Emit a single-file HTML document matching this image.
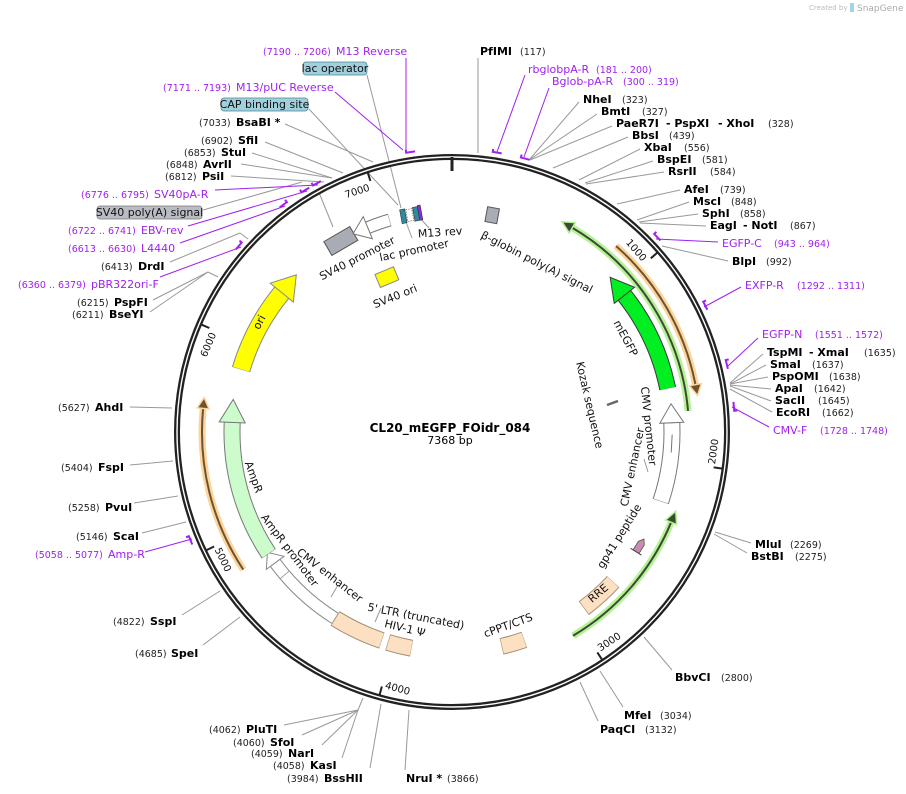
<!DOCTYPE html>
<html><head><meta charset="utf-8"><style>
html,body{margin:0;padding:0;background:#fff;}
svg{display:block;font-family:"DejaVu Sans","Liberation Sans",sans-serif;}
.n{font-size:11px;font-weight:bold;fill:#000;}
.c{font-size:9.5px;fill:#222;}
.p{font-size:11px;fill:#a020f0;}
.pc{font-size:9.5px;fill:#a020f0;}
.f{font-size:11px;fill:#111;}
.t{font-size:10px;fill:#111;}
.l{stroke:#999;stroke-width:1;fill:none;}
.lp{stroke:#a020f0;stroke-width:1;fill:none;}
</style></head><body>
<svg width="906" height="794" viewBox="0 0 906 794" xmlns="http://www.w3.org/2000/svg">
<rect width="906" height="794" fill="#fff"/>
<text x="809" y="10" style="font-size:7px;fill:#bbb">Created by</text>
<path d="M850,3 h4 v9 h-4z" fill="#9fd3ee"/>
<text x="857" y="11" style="font-size:9px;fill:#aaa">SnapGene</text>

<g class="l">
<line x1="478" y1="58" x2="478" y2="153"/>
<line x1="579" y1="102" x2="529" y2="160"/>
<line x1="597" y1="114" x2="529" y2="160"/>
<line x1="612" y1="126" x2="530" y2="160"/>
<line x1="628" y1="137" x2="553" y2="168"/>
<line x1="640" y1="149" x2="579" y2="180"/>
<line x1="653" y1="161" x2="585" y2="183"/>
<line x1="664" y1="172" x2="586" y2="184"/>
<line x1="680" y1="190" x2="617" y2="204"/>
<line x1="689" y1="202" x2="637" y2="220"/>
<line x1="698" y1="214" x2="639" y2="222"/>
<line x1="706" y1="226" x2="640" y2="223"/>
<line x1="728" y1="261" x2="662" y2="246"/>
<line x1="763" y1="354" x2="730" y2="383"/>
<line x1="766" y1="365" x2="730" y2="384"/>
<line x1="768" y1="377" x2="730" y2="384"/>
<line x1="771" y1="389" x2="730" y2="385"/>
<line x1="771" y1="401" x2="730" y2="386"/>
<line x1="772" y1="412" x2="730" y2="389"/>
<line x1="751" y1="543" x2="715" y2="532"/>
<line x1="747" y1="553" x2="714" y2="534"/>
<line x1="672" y1="670" x2="644" y2="637"/>
<line x1="623" y1="707" x2="600" y2="671"/>
<line x1="598" y1="721" x2="580" y2="682"/>
<line x1="405" y1="770" x2="409" y2="710"/>
<line x1="370" y1="768" x2="381" y2="704"/>
<line x1="342" y1="758" x2="358" y2="710"/>
<line x1="322" y1="745" x2="358" y2="710"/>
<line x1="302" y1="735" x2="358" y2="710"/>
<line x1="284" y1="725" x2="358" y2="710"/>
<line x1="358" y1="710" x2="363" y2="698"/>
<line x1="203" y1="645" x2="240" y2="617"/>
<line x1="182" y1="615" x2="220" y2="591"/>
<line x1="142" y1="533" x2="186" y2="522"/>
<line x1="134" y1="503" x2="178" y2="496"/>
<line x1="130" y1="465" x2="173" y2="461"/>
<line x1="130" y1="407" x2="172" y2="408"/>
<line x1="150" y1="312" x2="208" y2="272"/>
<line x1="153" y1="300" x2="208" y2="272"/>
<line x1="208" y1="272" x2="218" y2="277"/>
<line x1="170" y1="262" x2="240" y2="233"/>
<line x1="240" y1="233" x2="248" y2="239"/>
<line x1="203" y1="210" x2="302" y2="182"/>
<line x1="231" y1="176" x2="324" y2="182"/>
<line x1="241" y1="164" x2="332" y2="178"/>
<line x1="252" y1="153" x2="332" y2="178"/>
<line x1="265" y1="142" x2="343" y2="173"/>
<line x1="285" y1="124" x2="373" y2="162"/>
<line x1="309" y1="109" x2="398" y2="205"/>
<line x1="367" y1="75" x2="401" y2="208"/>
<line x1="318" y1="190" x2="333" y2="227"/>
<line x1="412" y1="238" x2="406" y2="222"/>
<line x1="429" y1="228" x2="418" y2="216"/>
<line x1="644" y1="459" x2="648" y2="472"/>
<line x1="338" y1="585" x2="331" y2="597"/>
<line x1="381" y1="608" x2="375" y2="622"/>
</g>
<g class="lp">
<line x1="525" y1="75" x2="497" y2="152"/>
<line x1="549" y1="88" x2="524" y2="157"/>
<line x1="718" y1="242" x2="656" y2="239"/>
<line x1="741" y1="287" x2="704" y2="307"/>
<line x1="758" y1="338" x2="728" y2="366"/>
<line x1="769" y1="427" x2="732" y2="407"/>
<line x1="145" y1="552" x2="192" y2="539"/>
<line x1="160" y1="277" x2="241" y2="247"/>
<line x1="180" y1="243" x2="285" y2="206"/>
<line x1="188" y1="226" x2="307" y2="191"/>
<line x1="215" y1="190" x2="318" y2="185"/>
<line x1="335" y1="92" x2="403" y2="150"/>
<line x1="406" y1="58" x2="406" y2="152"/>
</g>
<g stroke="#a020f0" stroke-width="2" fill="none">
<g transform="rotate(9.3 452 432)"><path d="M447,149 H456 M447,146 V150"/></g>
<g transform="rotate(15.1 452 432)"><path d="M447,149 H456 M447,146 V150"/></g>
<g transform="rotate(46.6 452 432)"><path d="M447,149 H456 M447,146 V150"/></g>
<g transform="rotate(63.6 452 432)"><path d="M447,149 H456 M447,146 V150"/></g>
<g transform="rotate(76.3 452 432)"><path d="M447,149 H456 M447,146 V150"/></g>
<g transform="rotate(84.9 452 432)"><path d="M447,149 H456 M456,146 V150"/></g>
<g transform="rotate(247.6 452 432)"><path d="M447,149 H456 M456,146 V150"/></g>
<g transform="rotate(311.2 452 432)"><path d="M447,149 H456 M456,146 V150"/></g>
<g transform="rotate(323.5 452 432)"><path d="M447,149 H456 M456,146 V150"/></g>
<g transform="rotate(328.9 452 432)"><path d="M447,149 H456 M447,146 V150"/></g>
<g transform="rotate(331.6 452 432)"><path d="M447,149 H456 M447,146 V150"/></g>
<g transform="rotate(351.7 452 432)"><path d="M447,149 H456 M447,146 V150"/></g>
</g>

<circle cx="452" cy="432" r="275" fill="none" stroke="#222" stroke-width="6"/>
<circle cx="452" cy="432" r="275" fill="none" stroke="#fff" stroke-width="1.4"/>
<line x1="452" y1="157" x2="452" y2="171" stroke="#222" stroke-width="3"/>
<g stroke="#222" stroke-width="2">
<line x1="452" y1="159" x2="452" y2="168" transform="rotate(48.86 452 432)"/>
<line x1="452" y1="159" x2="452" y2="168" transform="rotate(97.7 452 432)"/>
<line x1="452" y1="159" x2="452" y2="168" transform="rotate(146.6 452 432)"/>
<line x1="452" y1="159" x2="452" y2="168" transform="rotate(195.4 452 432)"/>
<line x1="452" y1="159" x2="452" y2="168" transform="rotate(244.3 452 432)"/>
<line x1="452" y1="159" x2="452" y2="168" transform="rotate(293.2 452 432)"/>
<line x1="452" y1="159" x2="452" y2="168" transform="rotate(342 452 432)"/>
</g>
<g class="t">
<text transform="rotate(48.86 452 432)" x="449" y="177" text-anchor="end">1000</text>
<text transform="rotate(-82.3 452 432)" x="455" y="697">2000</text>
<text transform="rotate(-33.4 452 432)" x="455" y="697">3000</text>
<text transform="rotate(15.4 452 432)" x="455" y="697">4000</text>
<text transform="rotate(64.3 452 432)" x="455" y="697">5000</text>
<text transform="rotate(-66.8 452 432)" x="449" y="177" text-anchor="end">6000</text>
<text transform="rotate(-18 452 432)" x="449" y="177" text-anchor="end">7000</text>
</g>

<g fill="none">
<circle cx="452" cy="432" r="237" stroke="#b6f296" stroke-width="7" stroke-dasharray="225 2000" transform="rotate(-59.5 452 432)"/>
<circle cx="452" cy="432" r="237" stroke="#3d4a33" stroke-width="2" stroke-dasharray="225 2000" transform="rotate(-59.5 452 432)"/>
<circle cx="452" cy="432" r="237" stroke="#b6f296" stroke-width="7" stroke-dasharray="152.6 2000" transform="rotate(22.4 452 432)"/>
<circle cx="452" cy="432" r="237" stroke="#3d4a33" stroke-width="2" stroke-dasharray="152.6 2000" transform="rotate(22.4 452 432)"/>
<circle cx="452" cy="432" r="248" stroke="#fdd49b" stroke-width="7" stroke-dasharray="162.7 2000" transform="rotate(-48.6 452 432)"/>
<circle cx="452" cy="432" r="248" stroke="#6b5430" stroke-width="2" stroke-dasharray="162.7 2000" transform="rotate(-48.6 452 432)"/>
<circle cx="452" cy="432" r="250" stroke="#fdd49b" stroke-width="7" stroke-dasharray="169.3 2000" transform="rotate(146.6 452 432)"/>
<circle cx="452" cy="432" r="250" stroke="#6b5430" stroke-width="2" stroke-dasharray="169.3 2000" transform="rotate(146.6 452 432)"/>
</g>
<polygon transform="rotate(30.5 452 432)" points="452,189 452,201 440,195" fill="#3d4a33" stroke="#b6f296" stroke-width="1.5"/>
<polygon transform="rotate(112.4 452 432)" points="452,189 452,201 440,195" fill="#3d4a33" stroke="#b6f296" stroke-width="1.5"/>
<polygon transform="rotate(79 452 432)" points="452,178 452,190 463,184" fill="#6b5430" stroke="#fdd49b" stroke-width="1.5"/>
<polygon transform="rotate(275.4 452 432)" points="452,176 452,188 463,182" fill="#6b5430" stroke="#fdd49b" stroke-width="1.5"/>

<circle cx="452" cy="432" r="220" fill="none" stroke="#3a3a3a" stroke-width="17" stroke-dasharray="103.7 2000" transform="rotate(-38.4 452 432)"/>
<circle cx="452" cy="432" r="220" fill="none" stroke="#00ee22" stroke-width="15" stroke-dasharray="103.2 2000" transform="rotate(-38.3 452 432)"/>
<polygon transform="rotate(51.6 452 432)" points="452,199 452,225 429,212" fill="#00ee22" stroke="#3a3a3a" stroke-width="1"/>
<circle cx="452" cy="432" r="220" fill="none" stroke="#777" stroke-width="17" stroke-dasharray="79.9 2000" transform="rotate(-2.4 452 432)"/>
<circle cx="452" cy="432" r="220" fill="none" stroke="#fff" stroke-width="15" stroke-dasharray="79 2000" transform="rotate(-2.3 452 432)"/>
<line x1="443" y1="212" x2="461" y2="212" stroke="#777" transform="rotate(93 452 432)"/>
<polygon transform="rotate(87.6 452 432)" points="452,200 452,224 433,212" fill="#fff" stroke="#777" stroke-width="1"/>
<line x1="607" y1="405" x2="618" y2="401" stroke="#666" stroke-width="2.5"/>
<g transform="rotate(122 452 432)"><polygon points="446,209 456,209 456,216 446,216 441,212.5" fill="#c98bb0" stroke="#555" stroke-width="0.8"/><line x1="456" y1="206" x2="456" y2="219" stroke="#444"/></g>
<g fill="none">
<circle cx="452" cy="432" r="220" stroke="#a09074" stroke-width="17" stroke-dasharray="39.5 2000" transform="rotate(42.9 452 432)"/>
<circle cx="452" cy="432" r="220" stroke="#fde0c2" stroke-width="15" stroke-dasharray="38.5 2000" transform="rotate(43 452 432)"/>
<circle cx="452" cy="432" r="220" stroke="#a09074" stroke-width="17" stroke-dasharray="23.8 2000" transform="rotate(70.8 452 432)"/>
<circle cx="452" cy="432" r="220" stroke="#fde0c2" stroke-width="15" stroke-dasharray="22.8 2000" transform="rotate(70.9 452 432)"/>
<circle cx="452" cy="432" r="220" stroke="#a09074" stroke-width="17" stroke-dasharray="24.6 2000" transform="rotate(100.6 452 432)"/>
<circle cx="452" cy="432" r="220" stroke="#fde0c2" stroke-width="15" stroke-dasharray="23.6 2000" transform="rotate(100.7 452 432)"/>
<circle cx="452" cy="432" r="220" stroke="#a09074" stroke-width="17" stroke-dasharray="51.8 2000" transform="rotate(108.6 452 432)"/>
<circle cx="452" cy="432" r="220" stroke="#fde0c2" stroke-width="15" stroke-dasharray="50.8 2000" transform="rotate(108.7 452 432)"/>
<circle cx="452" cy="432" r="220" stroke="#888" stroke-width="13" stroke-dasharray="66.8 2000" transform="rotate(122.1 452 432)"/>
<circle cx="452" cy="432" r="220" stroke="#fff" stroke-width="11" stroke-dasharray="66 2000" transform="rotate(122.2 452 432)"/>
<circle cx="452" cy="432" r="220" stroke="#888" stroke-width="13" stroke-dasharray="15.4 2000" transform="rotate(139.5 452 432)"/>
<circle cx="452" cy="432" r="220" stroke="#fff" stroke-width="11" stroke-dasharray="14.6 2000" transform="rotate(139.6 452 432)"/>
</g>
<polygon transform="rotate(233.5 452 432)" points="452,201 452,223 465,212" fill="#fff" stroke="#888" stroke-width="1"/>
<circle cx="452" cy="432" r="220" fill="none" stroke="#777" stroke-width="17" stroke-dasharray="138.6 2000" transform="rotate(146.4 452 432)"/>
<circle cx="452" cy="432" r="220" fill="none" stroke="#ccfccc" stroke-width="15" stroke-dasharray="137.8 2000" transform="rotate(146.5 452 432)"/>
<polygon transform="rotate(272.5 452 432)" points="452,199 452,225 475,212" fill="#ccfccc" stroke="#777" stroke-width="1"/>
<circle cx="452" cy="432" r="220" fill="none" stroke="#888" stroke-width="19" stroke-dasharray="87.6 2000" transform="rotate(196.5 452 432)"/>
<circle cx="452" cy="432" r="220" fill="none" stroke="#ffff00" stroke-width="17" stroke-dasharray="87 2000" transform="rotate(196.6 452 432)"/>
<polygon transform="rotate(309.3 452 432)" points="452,197 452,227 475,212" fill="#ffff00" stroke="#888" stroke-width="1"/>
<rect transform="rotate(337.2 452 432)" x="442" y="257" width="20" height="14" fill="#ffff00" stroke="#888"/>
<rect transform="rotate(329.8 452 432)" x="437" y="203" width="30" height="16" fill="#a8acb4" stroke="#555"/>
<!-- SV40 promoter white arrow -->
<circle cx="452" cy="432" r="221" fill="none" stroke="#777" stroke-width="13" stroke-dasharray="23.2 2000" transform="rotate(247.6 452 432)"/>
<circle cx="452" cy="432" r="221" fill="none" stroke="#fff" stroke-width="11" stroke-dasharray="22.4 2000" transform="rotate(247.7 452 432)"/>
<polygon transform="rotate(337.6 452 432)" points="452,199 452,223 436,211" fill="#fff" stroke="#777" stroke-width="1"/>
<g transform="rotate(-10.5 452 432)">
<rect x="441" y="204" width="5" height="14" fill="#2f8aa0" stroke="#333" stroke-width="0.6"/>
<rect x="447" y="205" width="6" height="12" fill="#fff" stroke="#555" stroke-width="0.6" stroke-dasharray="1.5 1"/>
<rect x="454" y="204" width="5" height="14" fill="#2f8aa0" stroke="#333" stroke-width="0.6"/>
<rect x="459" y="203" width="3" height="15" fill="#8a2be2" stroke="#333" stroke-width="0.6"/>
</g>
<rect transform="rotate(10.5 452 432)" x="446" y="204" width="12" height="15" fill="#a8acb4" stroke="#555"/>

<g class="f" text-anchor="middle">
<text transform="translate(537,262) rotate(27)" y="4">β-globin poly(A) signal</text>
<text transform="translate(626,338) rotate(62)" y="4">mEGFP</text>
<text transform="translate(590,405) rotate(77)" y="4">Kozak sequence</text>
<text transform="translate(649,426) rotate(84)" y="4">CMV promoter</text>
<text transform="translate(632,467) rotate(-78)" y="4">CMV enhancer</text>
<text transform="translate(619,536) rotate(-58)" y="4">gp41 peptide</text>
<text transform="translate(598,593) rotate(-40)" y="4">RRE</text>
<text transform="translate(508,625) rotate(-20)" y="4">cPPT/CTS</text>
<text transform="translate(416,616) rotate(11)" y="4">5' LTR (truncated)</text>
<text transform="translate(405,628) rotate(14)" y="4">HIV-1 Ψ</text>
<text transform="translate(330,575) rotate(38)" y="4">CMV enhancer</text>
<text transform="translate(290,550) rotate(53)" y="4">AmpR promoter</text>
<text transform="translate(254,477) rotate(70)" y="4">AmpR</text>
<text transform="translate(259,322) rotate(-62)" y="4">ori</text>
<text transform="translate(395,296) rotate(-22)" y="4">SV40 ori</text>
<text transform="translate(357,258) rotate(-27)" y="4">SV40 promoter</text>
<text transform="translate(414,250) rotate(-12)" y="4">lac promoter</text>
<text transform="translate(440,232) rotate(-4)" y="4">M13 rev</text>
</g>

<text x="450" y="432" text-anchor="middle" style="font-size:12px;font-weight:bold">CL20_mEGFP_FOidr_084</text>
<text x="450" y="444" text-anchor="middle" style="font-size:11px">7368 bp</text>

<text class="n" x="480" y="55">PfIMI</text><text class="c" x="520" y="55">(117)</text>
<text class="p" x="528" y="73">rbglobpA-R</text><text class="pc" x="596" y="73">(181 .. 200)</text>
<text class="p" x="552" y="85">Bglob-pA-R</text><text class="pc" x="623" y="85">(300 .. 319)</text>
<text class="n" x="583" y="103">NheI</text><text class="c" x="622" y="103">(323)</text>
<text class="n" x="601" y="115">BmtI</text><text class="c" x="642" y="115">(327)</text>
<text class="n" x="616" y="127">PaeR7I</text><text class="n" x="666" y="127">- PspXI</text><text class="n" x="718" y="127">- XhoI</text><text class="c" x="768" y="127">(328)</text>
<text class="n" x="632" y="139">BbsI</text><text class="c" x="669" y="139">(439)</text>
<text class="n" x="644" y="151">XbaI</text><text class="c" x="684" y="151">(556)</text>
<text class="n" x="657" y="163">BspEI</text><text class="c" x="702" y="163">(581)</text>
<text class="n" x="668" y="175">RsrII</text><text class="c" x="710" y="175">(584)</text>
<text class="n" x="684" y="193">AfeI</text><text class="c" x="720" y="193">(739)</text>
<text class="n" x="693" y="205">MscI</text><text class="c" x="731" y="205">(848)</text>
<text class="n" x="702" y="217">SphI</text><text class="c" x="740" y="217">(858)</text>
<text class="n" x="710" y="229">EagI</text><text class="n" x="743" y="229">- NotI</text><text class="c" x="790" y="229">(867)</text>
<text class="p" x="722" y="247">EGFP-C</text><text class="pc" x="774" y="247">(943 .. 964)</text>
<text class="n" x="732" y="265">BlpI</text><text class="c" x="766" y="265">(992)</text>
<text class="p" x="745" y="289">EXFP-R</text><text class="pc" x="797" y="289">(1292 .. 1311)</text>
<text class="p" x="762" y="338">EGFP-N</text><text class="pc" x="815" y="338">(1551 .. 1572)</text>
<text class="n" x="767" y="356">TspMI</text><text class="n" x="809" y="356">- XmaI</text><text class="c" x="864" y="356">(1635)</text>
<text class="n" x="770" y="368">SmaI</text><text class="c" x="812" y="368">(1637)</text>
<text class="n" x="772" y="380">PspOMI</text><text class="c" x="829" y="380">(1638)</text>
<text class="n" x="775" y="392">ApaI</text><text class="c" x="814" y="392">(1642)</text>
<text class="n" x="775" y="404">SacII</text><text class="c" x="818" y="404">(1645)</text>
<text class="n" x="776" y="416">EcoRI</text><text class="c" x="822" y="416">(1662)</text>
<text class="p" x="773" y="434">CMV-F</text><text class="pc" x="820" y="434">(1728 .. 1748)</text>
<text class="n" x="755" y="548">MluI</text><text class="c" x="790" y="548">(2269)</text>
<text class="n" x="751" y="560">BstBI</text><text class="c" x="795" y="560">(2275)</text>
<text class="n" x="675" y="681">BbvCI</text><text class="c" x="721" y="681">(2800)</text>
<text class="n" x="624" y="719">MfeI</text><text class="c" x="660" y="719">(3034)</text>
<text class="n" x="600" y="733">PaqCI</text><text class="c" x="645" y="733">(3132)</text>
<text class="n" x="406" y="782">NruI *</text><text class="c" x="447" y="782">(3866)</text>
<text class="c" x="287" y="782">(3984)</text><text class="n" x="324" y="782">BssHII</text>
<text class="c" x="273" y="769">(4058)</text><text class="n" x="310" y="769">KasI</text>
<text class="c" x="251" y="757">(4059)</text><text class="n" x="288" y="757">NarI</text>
<text class="c" x="233" y="746">(4060)</text><text class="n" x="270" y="746">SfoI</text>
<text class="c" x="209" y="733">(4062)</text><text class="n" x="246" y="733">PluTI</text>
<text class="c" x="135" y="657">(4685)</text><text class="n" x="171" y="657">SpeI</text>
<text class="c" x="113" y="625">(4822)</text><text class="n" x="150" y="625">SspI</text>
<text class="pc" x="35" y="558">(5058 .. 5077)</text><text class="p" x="108" y="558">Amp-R</text>
<text class="c" x="76" y="540">(5146)</text><text class="n" x="113" y="540">ScaI</text>
<text class="c" x="68" y="511">(5258)</text><text class="n" x="105" y="511">PvuI</text>
<text class="c" x="61" y="471">(5404)</text><text class="n" x="98" y="471">FspI</text>
<text class="c" x="58" y="411">(5627)</text><text class="n" x="95" y="411">AhdI</text>
<text class="c" x="72" y="318">(6211)</text><text class="n" x="109" y="318">BseYI</text>
<text class="c" x="77" y="306">(6215)</text><text class="n" x="114" y="306">PspFI</text>
<text class="pc" x="18" y="288">(6360 .. 6379)</text><text class="p" x="91" y="288">pBR322ori-F</text>
<text class="c" x="101" y="270">(6413)</text><text class="n" x="138" y="270">DrdI</text>
<text class="pc" x="68" y="252">(6613 .. 6630)</text><text class="p" x="141" y="252">L4440</text>
<text class="pc" x="68" y="234">(6722 .. 6741)</text><text class="p" x="141" y="234">EBV-rev</text>
<rect x="97" y="206" width="105" height="13" rx="3" fill="#b9bcc2" stroke="#777" stroke-width="0.8"/>
<text x="149.5" y="216" text-anchor="middle" style="font-size:11px;fill:#111">SV40 poly(A) signal</text>
<text class="pc" x="81" y="198">(6776 .. 6795)</text><text class="p" x="154" y="198">SV40pA-R</text>
<text class="c" x="165" y="180">(6812)</text><text class="n" x="202" y="180">PsiI</text>
<text class="c" x="166" y="168">(6848)</text><text class="n" x="203" y="168">AvrII</text>
<text class="c" x="184" y="156">(6853)</text><text class="n" x="221" y="156">StuI</text>
<text class="c" x="201" y="144">(6902)</text><text class="n" x="238" y="144">SfiI</text>
<text class="c" x="199" y="126">(7033)</text><text class="n" x="236" y="126">BsaBI  *</text>
<rect x="221" y="98" width="87" height="13" rx="3" fill="#9fd0dc" stroke="#4f8594" stroke-width="0.8"/>
<text x="264.5" y="108" text-anchor="middle" style="font-size:11px;fill:#111">CAP binding site</text>
<text class="pc" x="163" y="91">(7171 .. 7193)</text><text class="p" x="236" y="91">M13/pUC Reverse</text>
<rect x="303" y="62" width="64" height="13" rx="3" fill="#9fd0dc" stroke="#4f8594" stroke-width="0.8"/>
<text x="335" y="72" text-anchor="middle" style="font-size:11px;fill:#111">lac operator</text>
<text class="pc" x="263" y="55">(7190 .. 7206)</text><text class="p" x="336" y="55">M13 Reverse</text>
</svg>
</body></html>
